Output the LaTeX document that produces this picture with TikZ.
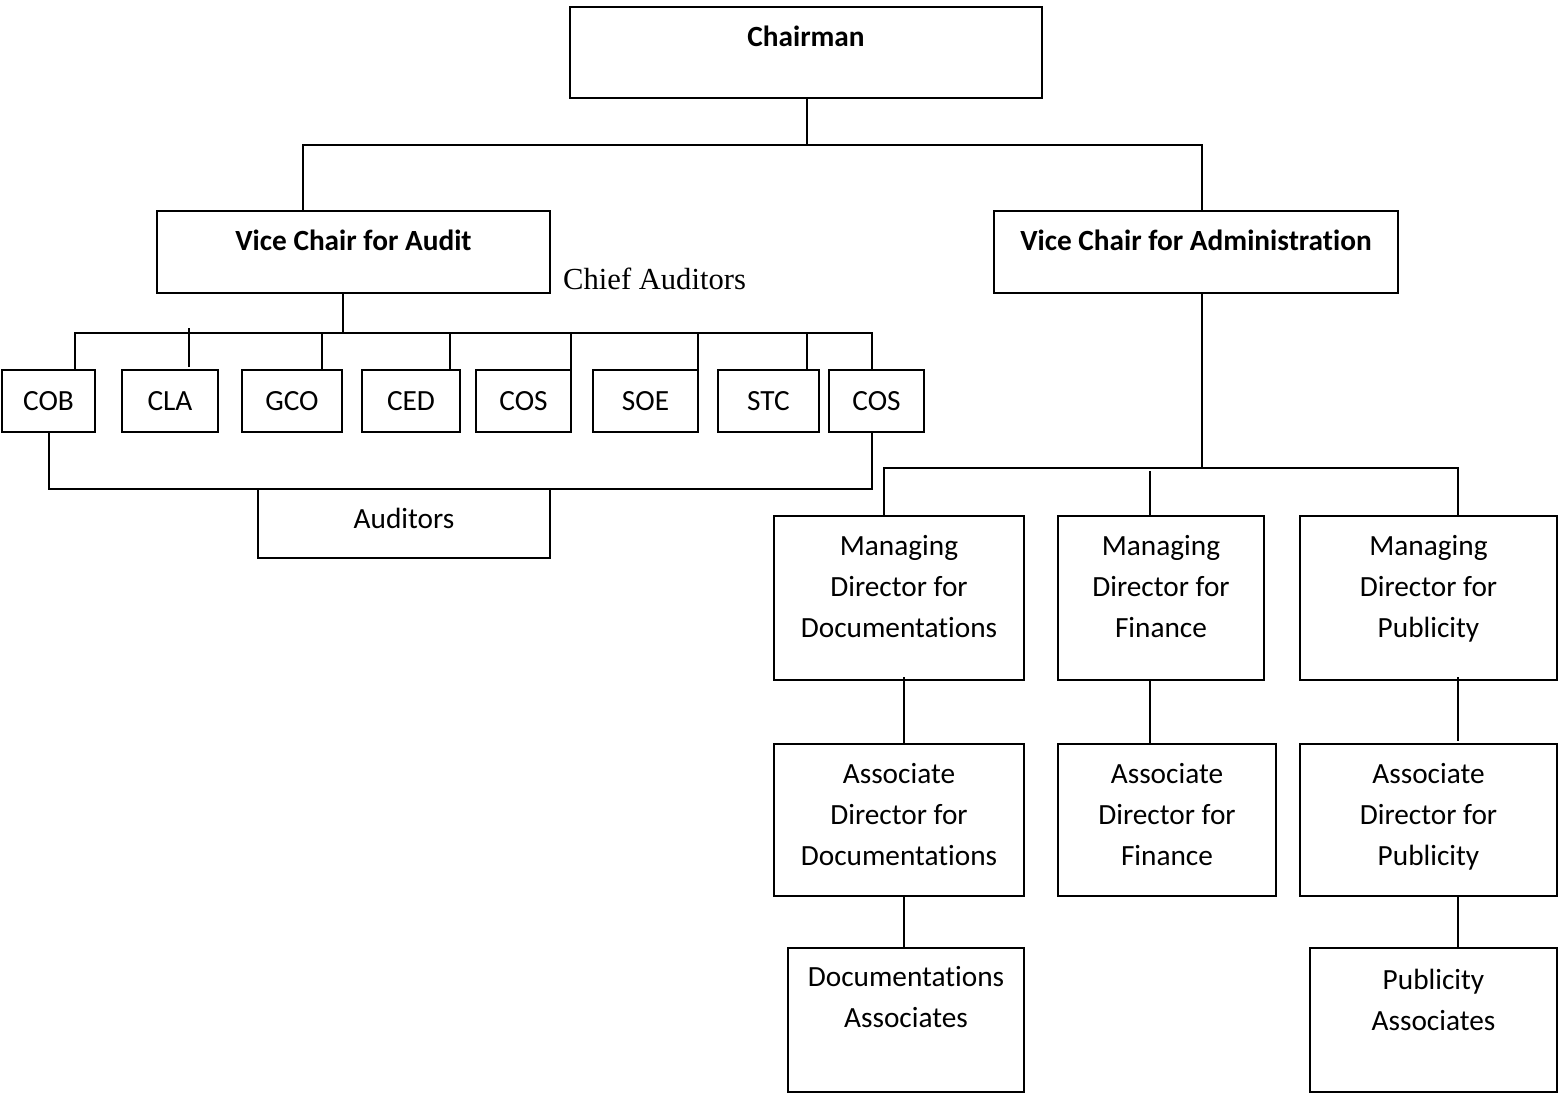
\documentclass[tikz,border=0pt]{standalone}
\usepackage{fontspec}
\setmainfont{Carlito}[Ligatures=CommonOff]
\newfontfamily\timesf{Liberation Serif}
\begin{document}
\begin{tikzpicture}[x=1pt,y=-1pt,
  box/.style={draw, line width=2.2pt, rectangle, inner sep=0pt, outer sep=0pt, anchor=north west},
  txt/.style={font=\fontsize{29.3}{41}\selectfont, align=center, inner sep=0pt, anchor=north},
  btxt/.style={txt, font=\fontsize{29.3}{41}\selectfont\bfseries},
  conn/.style={line width=2pt}]
\path[use as bounding box] (0,0) rectangle (1567,1093);

% boxes
\node[box, minimum width=472pt, minimum height=91pt] (chair) at (570,7) {};
\node[box, minimum width=393pt, minimum height=82pt] (vca) at (157,211) {};
\node[box, minimum width=404pt, minimum height=82pt] (vcb) at (994,211) {};
\node[box, minimum width=93pt, minimum height=62pt] (cob) at (2,370) {};
\node[box, minimum width=96pt, minimum height=62pt] (cla) at (122,370) {};
\node[box, minimum width=100pt, minimum height=62pt] (gco) at (242,370) {};
\node[box, minimum width=98pt, minimum height=62pt] (ced) at (362,370) {};
\node[box, minimum width=95pt, minimum height=62pt] (cosa) at (476,370) {};
\node[box, minimum width=105pt, minimum height=62pt] (soe) at (593,370) {};
\node[box, minimum width=101pt, minimum height=62pt] (stc) at (718,370) {};
\node[box, minimum width=95pt, minimum height=62pt] (cosb) at (829,370) {};
\node[box, minimum width=292pt, minimum height=69pt] (aud) at (258,489) {};
\node[box, minimum width=250pt, minimum height=164pt] (mda) at (774,516) {};
\node[box, minimum width=206pt, minimum height=164pt] (mdb) at (1058,516) {};
\node[box, minimum width=257pt, minimum height=164pt] (mdc) at (1300,516) {};
\node[box, minimum width=250pt, minimum height=152pt] (ada) at (774,744) {};
\node[box, minimum width=218pt, minimum height=152pt] (adb) at (1058,744) {};
\node[box, minimum width=257pt, minimum height=152pt] (adc) at (1300,744) {};
\node[box, minimum width=236pt, minimum height=144pt] (da) at (788,948) {};
\node[box, minimum width=247pt, minimum height=144pt] (pa) at (1310,948) {};

% texts
\node[btxt] (chairT) at ([yshift=-11pt]chair.north) {\strut Chairman};
\node[btxt] (vcaT) at ([yshift=-11pt]vca.north) {\strut Vice Chair for Audit};
\node[btxt] (vcbT) at ([yshift=-11pt]vcb.north) {\strut Vice Chair for Administration};
\node[txt] (cobT) at ([yshift=-12pt]cob.north) {\strut COB};
\node[txt] (claT) at ([yshift=-12pt]cla.north) {\strut CLA};
\node[txt] (gcoT) at ([yshift=-12pt]gco.north) {\strut GCO};
\node[txt] (cedT) at ([yshift=-12pt]ced.north) {\strut CED};
\node[txt] (cosaT) at ([yshift=-12pt]cosa.north) {\strut COS};
\node[txt] (soeT) at ([yshift=-12pt]soe.north) {\strut SOE};
\node[txt] (stcT) at ([yshift=-12pt]stc.north) {\strut STC};
\node[txt] (cosbT) at ([yshift=-12pt]cosb.north) {\strut COS};
\node[txt] (audT) at ([yshift=-11pt]aud.north) {\strut Auditors};
\node[txt] (mdaT) at ([yshift=-11pt]mda.north) {\strut Managing\\Director for\\Documentations};
\node[txt] (mdbT) at ([yshift=-11pt]mdb.north) {\strut Managing\\Director for\\Finance};
\node[txt] (mdcT) at ([yshift=-11pt]mdc.north) {\strut Managing\\Director for\\Publicity};
\node[txt] (adaT) at ([yshift=-11pt]ada.north) {\strut Associate\\Director for\\Documentations};
\node[txt] (adbT) at ([yshift=-11pt]adb.north) {\strut Associate\\Director for\\Finance};
\node[txt] (adcT) at ([yshift=-11pt]adc.north) {\strut Associate\\Director for\\Publicity};
\node[txt] (daT) at ([yshift=-10pt]da.north) {\strut Documentations\\Associates};
\node[txt] (paT) at ([yshift=-13pt]pa.north) {\strut Publicity\\Associates};
\node[anchor=base west, inner sep=0pt, font=\timesf\fontsize{30.6}{36}\selectfont] (chief) at (563,289) {Chief Auditors};

% connectors: chairman to vice chairs
\coordinate (cbus) at (807,145);
\coordinate (va) at ([xshift=-50.5pt]vca.north);
\coordinate (vb) at ([xshift=6pt]vcb.north);
\draw[conn] ([xshift=1pt]chair.south) -- (cbus);
\draw[conn] (va) |- (cbus) -| (vb);

% audit branch
\coordinate (abus) at (343,333);
\draw[conn] ([xshift=-10.5pt]vca.south) -- (abus);
\coordinate (d1) at ([xshift=73pt]cob.north west);
\coordinate (d3) at ([xshift=80pt]gco.north west);
\coordinate (d4) at ([xshift=88pt]ced.north west);
\coordinate (d5) at (cosa.north east);
\coordinate (d6) at (soe.north east);
\coordinate (d7) at ([xshift=89pt]stc.north west);
\coordinate (d8) at ([xshift=43pt]cosb.north west);
\draw[conn] (d1) |- (abus) -| (d8);
\draw[conn] (d3) -- (d3 |- abus);
\draw[conn] (d4) -- (d4 |- abus);
\draw[conn] (d5) -- (d5 |- abus);
\draw[conn] (d6) -- (d6 |- abus);
\draw[conn] (d7) -- (d7 |- abus);
\draw[conn] ([xshift=67pt,yshift=3pt]cla.north west) -- ++(0,-39);
\coordinate (e8) at ([xshift=43pt]cosb.south west);
\draw[conn] (cob.south) |- (aud.north) -| (e8);

% administration branch
\coordinate (rbus) at (1202,468);
\draw[conn] ([xshift=6pt]vcb.south) -- (rbus);
\coordinate (f1) at ([xshift=110pt]mda.north west);
\coordinate (f3) at ([xshift=158pt]mdc.north west);
\draw[conn] (f1) |- (rbus) -| (f3);
\draw[conn] (mdb.north west) ++(92,0) -- ++(0,-45);
\draw[conn] ([xshift=130pt,yshift=3pt]mda.south west) -- ([xshift=130pt]ada.north west);
\draw[conn] ([xshift=92pt]mdb.south west) -- ([xshift=92pt]adb.north west);
\draw[conn] ([xshift=158pt,yshift=3pt]mdc.south west) -- ([xshift=158pt,yshift=3pt]adc.north west);
\draw[conn] ([xshift=130pt]ada.south west) -- ([xshift=116pt]da.north west);
\draw[conn] ([xshift=158pt]adc.south west) -- ([xshift=148pt]pa.north west);
\end{tikzpicture}
\end{document}
